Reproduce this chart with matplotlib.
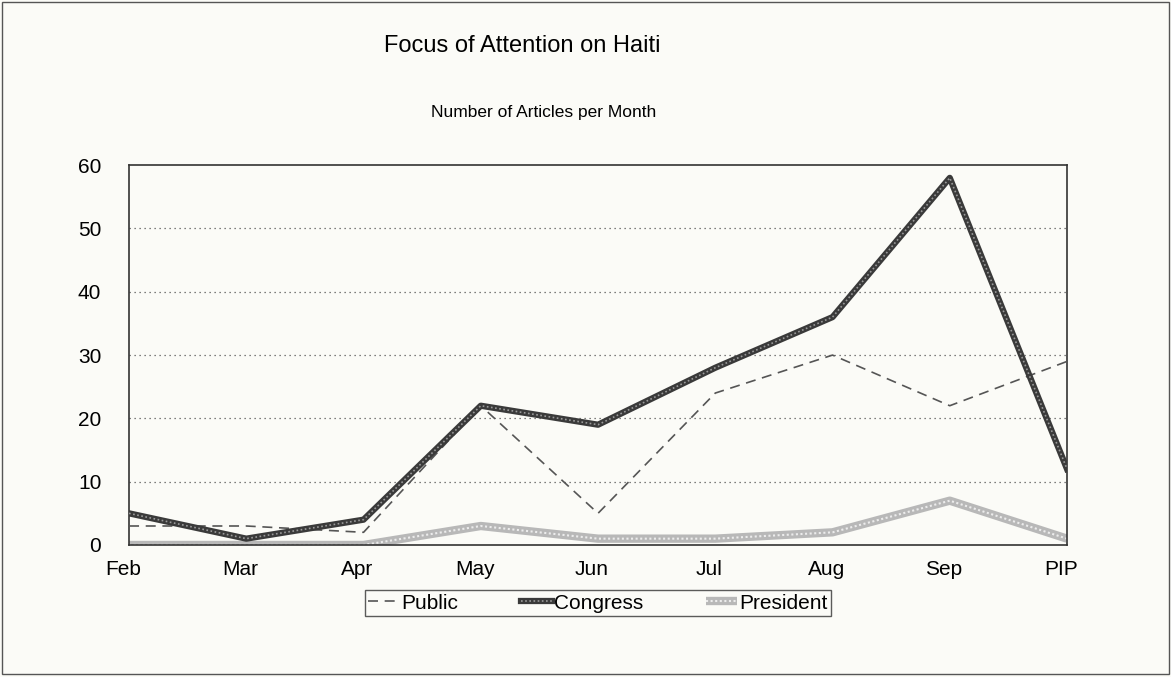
import matplotlib.pyplot as plt
import matplotlib.transforms as mtransforms
import numpy as np
from matplotlib.patches import Rectangle

plt.rcParams['font.family'] = ['Liberation Sans', 'DejaVu Sans']

months = ['Feb', 'Mar', 'Apr', 'May', 'Jun', 'Jul', 'Aug', 'Sep', 'PIP']
public = [3, 3, 2, 22, 5, 24, 30, 22, 29]
congress = [5, 1, 4, 22, 19, 28, 36, 58, 12]
president = [0, 0, 0, 3, 1, 1, 2, 7, 1]

x = np.arange(len(months))
bg = '#fbfbf7'

fig = plt.figure(figsize=(11.71, 6.77), dpi=100, facecolor=bg)
ax = fig.add_axes([0.1102, 0.195, 0.801, 0.561], facecolor=bg)

# dotted gridlines
for v in [10, 20, 30, 40, 50]:
    ax.axhline(v, color='#555555', lw=0.9, ls=(0, (1, 3)), zorder=1)

# President: light stippled band
p1, = ax.plot(x, president, color='#b8b8b8', lw=6, solid_capstyle='butt', zorder=2)
p2, = ax.plot(x, president, color='#ececec', lw=1.5, ls=(0, (1, 1.2)), zorder=2)

# Public: dashed
pub, = ax.plot(x, public, color='#555555', lw=1.2, ls=(0, (6, 4)), zorder=3)

# Congress: thick chain-like line
c1, = ax.plot(x, congress, color='#3a3a3a', lw=4.5, zorder=4)
c2, = ax.plot(x, congress, color='#9a9a9a', lw=1.2, ls=(0, (1, 1.5)), zorder=4)

ax.set_xlim(0, 8)
ax.set_ylim(0, 60)
ax.set_yticks([0, 10, 20, 30, 40, 50, 60])
ax.set_xticks(x)
ax.set_xticklabels(months)
ax.tick_params(length=0, labelsize=15, pad=11)
ax.tick_params(axis='y', pad=20)
shift = mtransforms.ScaledTranslation(-6 / 100, 0, fig.dpi_scale_trans)
for lab in ax.get_xticklabels():
    lab.set_transform(lab.get_transform() + shift)
for s in ax.spines.values():
    s.set_color('#333333')
    s.set_linewidth(1.2)

fig.text(0.446, 0.932, 'Focus of Attention on Haiti', ha='center', va='center', fontsize=17)
fig.text(0.464, 0.834, 'Number of Articles per Month', ha='center', va='center', fontsize=12.5)

leg = ax.legend([pub, (c1, c2), (p1, p2)], ['Public', 'Congress', 'President'],
                loc='center', bbox_to_anchor=(0.5, -0.153), ncol=3, fontsize=15,
                frameon=True, fancybox=False, handlelength=1.5, handletextpad=0.1,
                columnspacing=3.0, borderpad=0.15, facecolor=bg)
leg.get_frame().set_edgecolor('#333333')
leg.get_frame().set_linewidth(1.0)

fig.patches.append(Rectangle((0.002, 0.004), 0.996, 0.993, transform=fig.transFigure,
                             fill=False, edgecolor='#555555', lw=1.0))

fig.savefig('out.png', dpi=100, facecolor=bg)
